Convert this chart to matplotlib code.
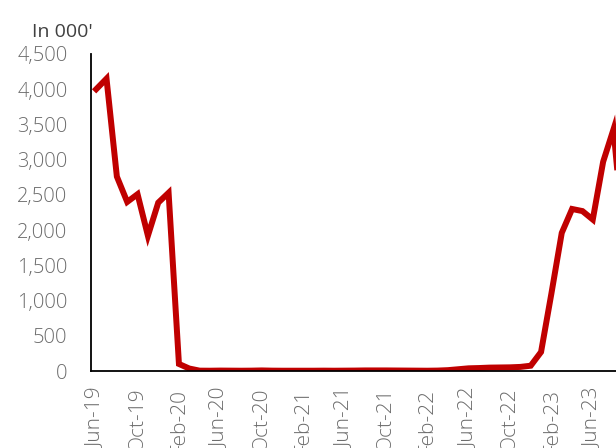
import numpy as np
import matplotlib.pyplot as plt

plt.rcParams['font.family'] = ['Open Sans', 'DejaVu Sans']

# Monatswerte Jun-19 .. Sep-23 (in tausend)
months = ['Jun-19', 'Jul-19', 'Aug-19', 'Sep-19', 'Oct-19', 'Nov-19', 'Dec-19',
          'Jan-20', 'Feb-20', 'Mar-20', 'Apr-20', 'May-20', 'Jun-20', 'Jul-20',
          'Aug-20', 'Sep-20', 'Oct-20', 'Nov-20', 'Dec-20', 'Jan-21', 'Feb-21',
          'Mar-21', 'Apr-21', 'May-21', 'Jun-21', 'Jul-21', 'Aug-21', 'Sep-21',
          'Oct-21', 'Nov-21', 'Dec-21', 'Jan-22', 'Feb-22', 'Mar-22', 'Apr-22',
          'May-22', 'Jun-22', 'Jul-22', 'Aug-22', 'Sep-22', 'Oct-22', 'Nov-22',
          'Dec-22', 'Jan-23', 'Feb-23', 'Mar-23', 'Apr-23', 'May-23', 'Jun-23',
          'Jul-23', 'Aug-23', 'Sep-23']
values = [4000, 4150, 2760, 2400, 2510, 1920, 2390,
          2530, 100, 35, 5, 4, 6, 5,
          4, 5, 8, 5, 4, 4, 4,
          4, 5, 4, 5, 6, 8, 8,
          8, 7, 6, 5, 4, 6, 12,
          25, 38, 42, 48, 50, 52, 58,
          75, 270, 1100, 1960, 2300, 2270, 2150,
          2970, 3430, 1850]

fig = plt.figure(figsize=(6.16, 4.48), dpi=100)
# Achse absichtlich über den rechten Rand hinaus (Bild ist dort abgeschnitten)
ax = fig.add_axes([91 / 616, 77 / 448, 538 / 616, 317 / 448])

x = np.arange(len(values))
ax.plot(x, values, color='#C00000', linewidth=4.3, solid_joinstyle='miter')

ax.set_xlim(-0.5, len(values) - 0.5)
ax.set_ylim(0, 4500)
ax.set_yticks(np.arange(0, 4501, 500))
ax.set_yticklabels([f'{v:,}' for v in range(0, 4501, 500)], fontweight='light')
ax.set_xticks(x[::4])
ax.set_xticklabels(months[::4], rotation=90, va='top', ha='center', fontweight='light')

ax.tick_params(axis='y', length=0, pad=17, labelsize=14.5, labelcolor='#6c6c6c')
ax.tick_params(axis='x', length=0, pad=12, labelsize=15, labelcolor='#6c6c6c')

for s in ['top', 'right']:
    ax.spines[s].set_visible(False)
for s in ['left', 'bottom']:
    ax.spines[s].set_color('black')
    ax.spines[s].set_linewidth(1.3)

fig.text(32 / 616, 1 - 37 / 448, "In 000'", fontsize=14, color='#404040', va='baseline')

fig.savefig('out.png', dpi=100)
